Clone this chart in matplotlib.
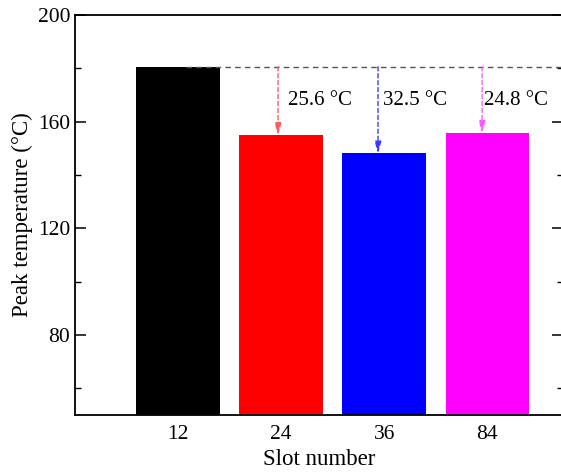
import matplotlib
matplotlib.use("Agg")
import matplotlib.pyplot as plt

categories = ["12", "24", "36", "84"]
peak_temps = [180.6, 155.0, 148.1, 155.8]
drops = ["25.6 °C", "32.5 °C", "24.8 °C"]
bar_colors = ["#000000", "#ff0000", "#0000ff", "#ff00ff"]
arrow_colors = ["#ff5a5a", "#3a3aff", "#ff5aff"]

plt.rcParams['font.family'] = ['Liberation Serif', 'DejaVu Serif']

fig = plt.figure(figsize=(5.61, 4.72), dpi=100)
W, H = 561, 472
ax = fig.add_axes([75 / W, 1 - 415 / H, (562.5 - 75) / W, (415 - 15) / H])

x = list(range(len(categories)))
ax.bar(x, peak_temps, width=0.81, color=bar_colors, zorder=2)

ref = peak_temps[0]
ax.plot([0.08, 3.8], [ref, ref], linestyle=(0, (4, 3)), color="#555555", lw=1.0, zorder=3)

arrow_dx = [-0.03, -0.06, -0.05]
text_x = [1.067, 1.987, 2.972]
for i in range(1, len(categories)):
    xa = x[i] + arrow_dx[i - 1]
    ax.annotate("", xy=(xa, peak_temps[i]), xytext=(xa, ref),
                arrowprops=dict(arrowstyle="-|>,head_length=0.7,head_width=0.2",
                                color=arrow_colors[i - 1], lw=1.0, linestyle=(0, (3, 2)),
                                shrinkA=0, shrinkB=0), zorder=4)
    ax.text(text_x[i - 1], 168.0, drops[i - 1], fontsize=15, va="center", ha="left", zorder=5)

ax.set_xlim(-1.0, 3.73)
ax.set_ylim(50, 200)
ax.set_xticks(x)
ax.set_xticklabels(categories)
ax.set_yticks([80, 120, 160, 200])
ax.set_yticks([60, 100, 140, 180], minor=True)
ax.tick_params(axis='y', which='major', direction='in', length=8, width=1.1, right=True, labelsize=15.5)
ax.tick_params(axis='y', which='minor', direction='in', length=4, width=1.0, right=True)
ax.tick_params(axis='x', which='both', length=0, labelsize=15.5, pad=7)
for s in ax.spines.values():
    s.set_linewidth(1.3)
ax.spines['right'].set_visible(False)

ax.set_xlabel("Slot number", fontsize=16.5, labelpad=4)
ax.set_ylabel("Peak temperature (°C)", fontsize=16.5, labelpad=3)

fig.savefig("out.png", dpi=100)
